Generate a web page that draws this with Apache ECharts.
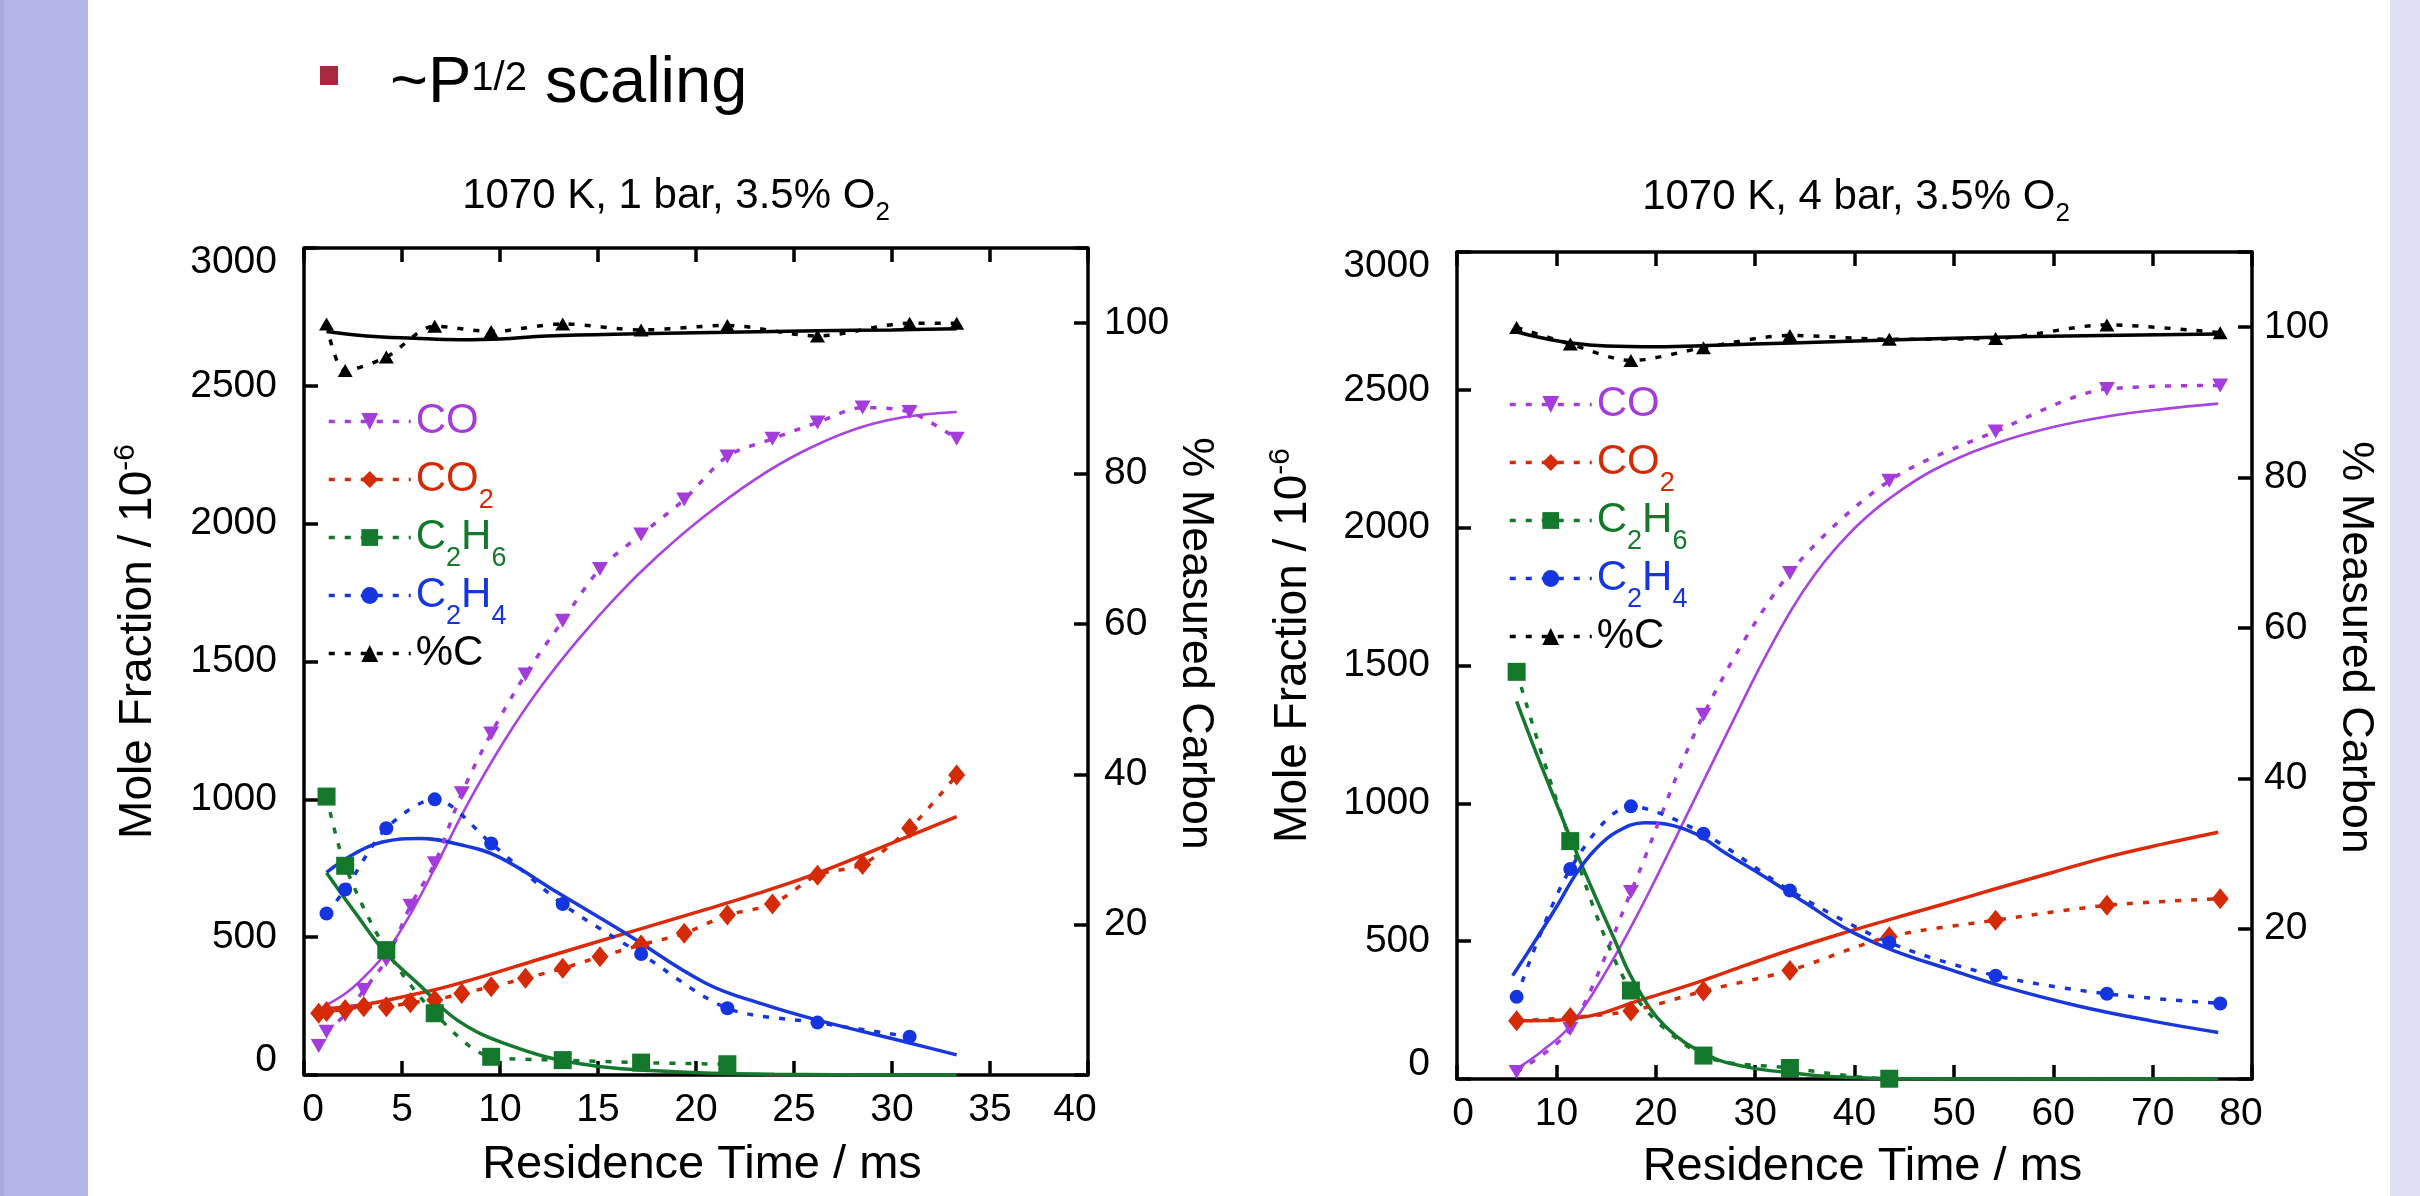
<!DOCTYPE html>
<html>
<head>
<meta charset="utf-8">
<script src="https://cdn.jsdelivr.net/npm/echarts@6/dist/echarts.min.js"></script>
<style>
html,body{margin:0;padding:0;background:#ffffff;}
#chart{width:2420px;height:1196px;}
</style>
</head>
<body>
<div id="chart"></div>
<script>
// ================= DATA =================
// ---- Panel 1: 1070 K, 1 bar, 3.5% O2 ----
const T1_ALL  = [0.75, 1.15, 2.1, 3.05, 4.2, 5.43, 6.67, 8.05, 9.55, 11.3, 13.2, 15.1, 17.2, 19.4, 21.6, 23.9, 26.2, 28.5, 30.9, 33.3];
const CO_1    = [105, 157, 218, 308, 417, 614, 768, 1022, 1239, 1453, 1648, 1836, 1961, 2088, 2244, 2308, 2367, 2421, 2405, 2308];
const CO2_1   = [224, 230, 238, 248, 248, 262, 272, 296, 320, 351, 387, 429, 472, 514, 580, 620, 725, 764, 895, 1088];
const T1_HC   = [1.15, 2.1, 4.2, 6.67, 9.55, 13.2, 17.2, 21.6, 26.2, 30.9, 33.3];
const C2H6_1  = [1010, 759, 453, 224, 66, 54, 45, 39];
const C2H4_1  = [586, 673, 895, 1000, 840, 620, 439, 242, 190, 139];
const PCTC_1  = [99.9, 93.7, 95.5, 99.6, 98.9, 99.9, 99.1, 99.7, 98.3, 100.0, 100.0];
// model curves (time ms, value)
const M_CO_1   = [[1.15,254],[2.2,300],[3.2,365],[4.2,445],[5.4,580],[6.67,750],[8.4,990],[10.2,1210],[12,1400],[14,1580],[16,1740],[18,1880],[20.3,2020],[23,2160],[25.4,2260],[28,2340],[30.5,2385],[33.3,2405]];
const M_CO2_1  = [[0.75,238],[3,255],[5,283],[7,315],[9,355],[12,420],[16.4,514],[20,590],[23,655],[26.2,732],[30.3,850],[33.3,937]];
const M_C2H6_1 = [[1.15,734],[2.6,590],[4.2,440],[5.9,326],[7.8,200],[10.4,110],[14,42],[18.9,12],[24,3],[33.3,0]];
const M_C2H4_1 = [[1.15,735],[2.5,800],[4,845],[5.9,858],[8,835],[9.9,792],[13,659],[16.4,514],[20.5,333],[23.5,255],[26.2,199],[30.9,116],[33.3,73]];
const M_PCTC_1 = [[1.15,98.9],[3.2,98.3],[5.6,98.0],[8,97.8],[10,97.9],[12.4,98.3],[17,98.6],[21.6,98.8],[26.2,99.0],[30,99.1],[33.3,99.25]];

// ---- Panel 2: 1070 K, 4 bar, 3.5% O2 ----
const T4_ALL  = [6.0, 11.4, 17.5, 24.8, 33.5, 43.5, 54.2, 65.4, 76.8];
const CO_4    = [25, 181, 678, 1321, 1836, 2170, 2349, 2503, 2516];
const CO2_4   = [211, 223, 247, 319, 394, 516, 576, 630, 654];
const C2H6_4  = [1477, 863, 321, 85, 40, 1];
const C2H6_4_TAIL = [0, 0, 0];            // dotted tail along the axis, no markers
const C2H4_4  = [298, 762, 989, 890, 684, 495, 375, 309, 274];
const PCTC_4  = [99.97, 97.75, 95.57, 97.27, 98.9, 98.4, 98.5, 100.3, 99.26];
const M_CO_4   = [[6,37],[8.5,100],[11.4,193],[15.1,396],[18.9,648],[23.7,1000],[28.2,1330],[31,1530],[33.7,1705],[36,1830],[38,1920],[40.5,2015],[43.3,2100],[48,2210],[54.2,2305],[60,2365],[65.7,2405],[71,2430],[76.6,2450]];
const M_CO2_4  = [[6,211],[9,212],[11.5,218],[14.5,238],[17.5,275],[21,314],[24.8,358],[29,412],[33.5,468],[38.5,525],[43.5,578],[49,635],[54.2,690],[60,750],[65.4,805],[71,852],[76.6,895]];
const M_C2H6_4 = [[6,1370],[8,1180],[10,1000],[11.8,840],[13.8,672],[15.8,510],[17.7,360],[20.9,193],[25.3,85],[29,45],[33.7,22],[38,8],[43.4,2],[55,0],[76.6,0]];
const M_C2H4_4 = [[5.6,375],[7.5,480],[10,624],[12,745],[13.8,828],[16,895],[18.9,930],[21,925],[24.1,888],[27,820],[30.5,744],[35,640],[39.4,540],[44,465],[49.7,396],[55,335],[62.5,265],[70,210],[76.6,169]];
const M_PCTC_4 = [[5.66,99.5],[8.5,98.6],[11.5,97.9],[15,97.5],[20.2,97.4],[26,97.6],[33.7,97.9],[43.5,98.3],[54.2,98.65],[65,98.9],[76.6,99.1]];

// axis ticks / labels
const X1_MAX = 40, X1_STEP = 5;
const X4_MAX = 80, X4_STEP = 10;
const Y_MAX = 3000, Y_STEP = 500;
const P_MAX = 110, P_STEP = 20, P_LABEL_MAX = 100;

// ================= STYLE =================
const FONT = '"Liberation Sans", Arial, Helvetica, sans-serif';
const C_CO = '#a43cdc', C_CO2 = '#d42a06', C_C2H6 = '#13782b', C_C2H4 = '#1535e0', C_PC = '#000000';
const DOT = [6, 10];
const zip = (xs, ys) => ys.map((y, i) => [xs[i], y]);

function dataSeries(name, xi, yi, pts, color, symbol, size, rot) {
  return {
    name, type: 'line', xAxisIndex: xi, yAxisIndex: yi, data: pts, smooth: 0.3,
    symbol, symbolSize: size, symbolRotate: rot || 0, showSymbol: true, showAllSymbol: true,
    lineStyle: { color, width: 3.5, type: DOT }, itemStyle: { color },
    z: 4, silent: true, animation: false
  };
}
function modelSeries(name, xi, yi, pts, color, width) {
  return {
    name, type: 'line', xAxisIndex: xi, yAxisIndex: yi, data: pts, smooth: 0.4,
    symbol: 'none', showSymbol: false, lineStyle: { color, width, type: 'solid' },
    z: 3, silent: true, animation: false
  };
}

const lbl = (extra) => Object.assign({ fontSize: 39, fontFamily: FONT, color: '#000' }, extra || {});
const AXLINE = { show: true, onZero: false, lineStyle: { color: '#000', width: 3.5 } };
const TICK = { show: true, inside: true, length: 14, lineStyle: { color: '#000', width: 3.5 } };

function xBottom(gi, max, step, gap, padL, padR, shift) {
  return {
    type: 'value', gridIndex: gi, position: 'bottom', min: 0, max, interval: step,
    axisLine: AXLINE, axisTick: TICK, splitLine: { show: false },
    axisLabel: {
      margin: 16, showMinLabel: true, showMaxLabel: true,
      formatter: v => v === 0 ? '{mn|0}' : (v === max ? '{mx|' + v + '}' : '{n|' + v + '}'),
      rich: { n: lbl(), mn: lbl({ padding: [0, 0, 0, padL] }), mx: lbl({ padding: [0, padR, 0, 0] }) }
    },
    name: 'Residence Time / ms', nameLocation: 'middle', nameGap: gap,
    nameTextStyle: { fontSize: 47, fontFamily: FONT, color: '#000', padding: [0, 0, 0, shift] }
  };
}
function xTop(gi, max, step) {
  return {
    type: 'value', gridIndex: gi, position: 'top', min: 0, max, interval: step,
    axisLine: AXLINE, axisTick: TICK, axisLabel: { show: false }, splitLine: { show: false }
  };
}
function yLeft(gi, gap) {
  return {
    type: 'value', gridIndex: gi, position: 'left', min: 0, max: Y_MAX, interval: Y_STEP,
    axisLine: AXLINE, axisTick: TICK, splitLine: { show: false },
    axisLabel: {
      margin: 27, showMinLabel: true, showMaxLabel: true,
      formatter: v => v === 0 ? '{mn|0}' : (v === Y_MAX ? '{mx|' + v + '}' : '{n|' + v + '}'),
      rich: { n: lbl(), mn: lbl({ padding: [0, 0, 30, 0] }), mx: lbl({ padding: [28, 0, 0, 0] }) }
    },
    name: 'Mole Fraction / 10{sup|-6}', nameLocation: 'middle', nameGap: gap, nameRotate: 90,
    nameTextStyle: {
      fontSize: 46, fontFamily: FONT, color: '#000', padding: [0, 0, 0, 40],
      rich: { sup: { fontSize: 30, fontFamily: FONT, color: '#000', padding: [0, 0, 24, 0] } }
    }
  };
}
function yRight(gi, gap, margin) {
  return {
    type: 'value', gridIndex: gi, position: 'right', min: 0, max: P_MAX, interval: P_STEP,
    axisLine: AXLINE, axisTick: TICK, splitLine: { show: false },
    axisLabel: Object.assign(lbl(), {
      margin, showMinLabel: true, showMaxLabel: true,
      formatter: v => (v === 0 || v > P_LABEL_MAX) ? '' : String(v)
    }),
    name: '% Measured Carbon', nameLocation: 'middle', nameGap: gap, nameRotate: -90,
    nameTextStyle: { fontSize: 45, fontFamily: FONT, color: '#000', padding: [0, 36, 0, 0] }
  };
}

// legend rich text (every row carries a subscript-sized token so all rows have equal height)
const RM = c => ({ fontSize: 42, lineHeight: 46, color: c, fontFamily: FONT });
const RS = c => ({ fontSize: 27, lineHeight: 4, padding: [42, 0, 0, 0], color: c, fontFamily: FONT });
const LEG_RICH = { p: RM(C_CO), ps: RS(C_CO), r: RM(C_CO2), rs: RS(C_CO2), g: RM(C_C2H6), gs: RS(C_C2H6), b: RM(C_C2H4), bs: RS(C_C2H4), k: RM(C_PC), ks: RS(C_PC) };
const LEG_TEXT = { 'CO': '{p|CO}{ps| }', 'CO2': '{r|CO}{rs|2}', 'C2H6': '{g|C}{gs|2}{g|H}{gs|6}', 'C2H4': '{b|C}{bs|2}{b|H}{bs|4}', '%C': '{k|%C}{ks| }' };
const SPECIES = ['CO', 'CO2', 'C2H6', 'C2H4', '%C'];
function legend(tag, left, top) {
  return {
    data: SPECIES.map(s => s + ' ' + tag), orient: 'vertical', left, top, padding: 0,
    itemWidth: 82, itemHeight: 21, itemGap: -11, selectedMode: false,
    lineStyle: { width: 3.5, type: DOT },
    formatter: n => LEG_TEXT[n.split(' ')[0]],
    textStyle: { rich: LEG_RICH }
  };
}

const TITLE_RICH = { s: { fontSize: 26, lineHeight: 6, padding: [34, 0, 0, 0], fontFamily: FONT, color: '#000' } };

const option = {
  animation: false,
  backgroundColor: '#ffffff',
  graphic: [
    { type: 'rect', left: 0, top: 0, shape: { width: 88, height: 1196 }, style: { fill: '#b3b5e8' }, silent: true },
    { type: 'rect', left: 0, top: 0, shape: { width: 4, height: 1196 }, style: { fill: '#a6a8e0' }, silent: true },
    { type: 'rect', left: 2390, top: 0, shape: { width: 30, height: 1196 }, style: { fill: '#dfdff6' }, silent: true },
    { type: 'rect', left: 320, top: 66, shape: { width: 18, height: 19 }, style: { fill: '#a8283f' }, silent: true }
  ],
  title: [
    { text: '~P{s|1/2} scaling', left: 390, top: 52, padding: 0,
      textStyle: { fontSize: 65, fontWeight: 'normal', fontFamily: FONT, color: '#000',
        rich: { s: { fontSize: 40, fontFamily: FONT, color: '#000', padding: [0, 0, 12, 0] } } } },
    { text: '1070 K, 1 bar, 3.5% O{s|2}', left: 676, top: 175, textAlign: 'center', padding: 0,
      textStyle: { fontSize: 42, fontWeight: 'normal', fontFamily: FONT, color: '#000', rich: TITLE_RICH } },
    { text: '1070 K, 4 bar, 3.5% O{s|2}', left: 1856, top: 176, textAlign: 'center', padding: 0,
      textStyle: { fontSize: 42, fontWeight: 'normal', fontFamily: FONT, color: '#000', rich: TITLE_RICH } }
  ],
  legend: [legend('(1bar)', 327, 387), legend('(4bar)', 1508, 370)],
  grid: [
    { left: 304, top: 248, width: 784, height: 827, containLabel: false },
    { left: 1457, top: 252, width: 795, height: 835, containLabel: false }
  ],
  xAxis: [
    xBottom(0, X1_MAX, X1_STEP, 67, 18, 26, 12), xTop(0, X1_MAX, X1_STEP),
    xBottom(1, X4_MAX, X4_STEP, 65, 12, 22, 16), xTop(1, X4_MAX, X4_STEP)
  ],
  yAxis: [
    yLeft(0, 139), yRight(0, 78, 16),
    yLeft(1, 137), yRight(1, 73, 12)
  ],
  series: [
    // panel 1 models
    modelSeries('m CO 1', 0, 0, M_CO_1, '#a844e0', 2.6),
    modelSeries('m CO2 1', 0, 0, M_CO2_1, '#dc2a0c', 3.5),
    modelSeries('m C2H6 1', 0, 0, M_C2H6_1, '#16782e', 3.5),
    modelSeries('m C2H4 1', 0, 0, M_C2H4_1, '#1838dc', 3.5),
    modelSeries('m PC 1', 0, 1, M_PCTC_1, '#000000', 3.5),
    // panel 1 data
    dataSeries('CO (1bar)', 0, 0, zip(T1_ALL, CO_1), C_CO, 'triangle', [16, 14], 180),
    dataSeries('CO2 (1bar)', 0, 0, zip(T1_ALL, CO2_1), C_CO2, 'diamond', [17, 21]),
    dataSeries('C2H6 (1bar)', 0, 0, zip(T1_HC, C2H6_1), C_C2H6, 'rect', [18, 18]),
    dataSeries('C2H4 (1bar)', 0, 0, zip(T1_HC, C2H4_1), C_C2H4, 'circle', 14),
    dataSeries('%C (1bar)', 0, 1, zip(T1_HC, PCTC_1), C_PC, 'triangle', [15, 13]),
    // panel 2 models
    modelSeries('m CO 4', 2, 2, M_CO_4, '#a844e0', 2.6),
    modelSeries('m CO2 4', 2, 2, M_CO2_4, '#dc2a0c', 3.5),
    modelSeries('m C2H6 4', 2, 2, M_C2H6_4, '#16782e', 3.5),
    modelSeries('m C2H4 4', 2, 2, M_C2H4_4, '#1838dc', 3.5),
    modelSeries('m PC 4', 2, 3, M_PCTC_4, '#000000', 3.5),
    // panel 2 data
    dataSeries('CO (4bar)', 2, 2, zip(T4_ALL, CO_4), C_CO, 'triangle', [16, 14], 180),
    dataSeries('CO2 (4bar)', 2, 2, zip(T4_ALL, CO2_4), C_CO2, 'diamond', [17, 21]),
    dataSeries('C2H6 (4bar)', 2, 2,
      zip(T4_ALL, C2H6_4).concat(zip(T4_ALL.slice(C2H6_4.length + 1), C2H6_4_TAIL).map(p => ({ value: p, symbol: 'none' }))),
      C_C2H6, 'rect', [18, 18]),
    dataSeries('C2H4 (4bar)', 2, 2, zip(T4_ALL, C2H4_4), C_C2H4, 'circle', 14),
    dataSeries('%C (4bar)', 2, 3, zip(T4_ALL, PCTC_4), C_PC, 'triangle', [15, 13])
  ]
};

const chart = echarts.init(document.getElementById('chart'), null, { renderer: 'canvas' });
chart.setOption(option);
</script>
</body>
</html>
